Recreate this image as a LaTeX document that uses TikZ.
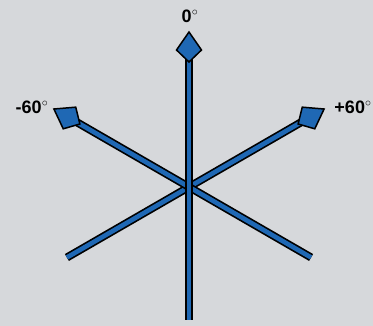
\documentclass[tikz,border=0pt]{standalone}
\usepackage{fontspec}
\setsansfont{Liberation Sans}
\usepackage{xcolor}
\usetikzlibrary{calc}
\definecolor{bgrey}{HTML}{D6D8DB}
\definecolor{axisblue}{HTML}{1F68B4}

\begin{document}
\begin{tikzpicture}[x=1pt,y=1pt,font=\sffamily\bfseries\fontsize{18}{20}\selectfont]
    \tikzset{
      shaft/.style={line width=8pt, draw=black, shorten >=24pt,
        postaction={draw=axisblue, line width=4.6pt, shorten >=24pt}},
      label/.style={inner sep=1pt},
      kite/.pic={
        \filldraw[fill=axisblue, draw=black, line width=1.5pt, line join=miter]
          (0,0) -- (-18,12.5) -- (-30,0) -- (-18,-12.5) -- cycle;
      }
    }
    \fill[bgrey] (0,0) rectangle (373,326);
    \useasboundingbox (0,0) rectangle (373,326);

    % axis ends
    \coordinate (c) at (189,139);
    \coordinate (top) at ($(c)+(90:155)$);
    \coordinate (left) at ($(c)+(150:156)$);
    \coordinate (right) at ($(c)+(30:156)$);
    \coordinate (bot) at ($(c)+(270:133)$);
    \coordinate (botleft) at ($(c)+(210:141)$);
    \coordinate (botright) at ($(c)+(330:141)$);

    \draw[shaft] (botleft) -- (right);
    \draw[shaft] (botright) -- (left);
    \draw[shaft] (bot) -- (top);

    \pic[rotate=90] at (top) {kite};
    \pic[rotate=150] at (left) {kite};
    \pic[rotate=30] at (right) {kite};

    \node[label] (lzero) at (190,310) {0${}^{\circ}$};
    \node[label] (lminus) at (32,219) {-60${}^{\circ}$};
    \node[label] (lplus) at (353,219) {+60${}^{\circ}$};
  \end{tikzpicture}
\end{document}
